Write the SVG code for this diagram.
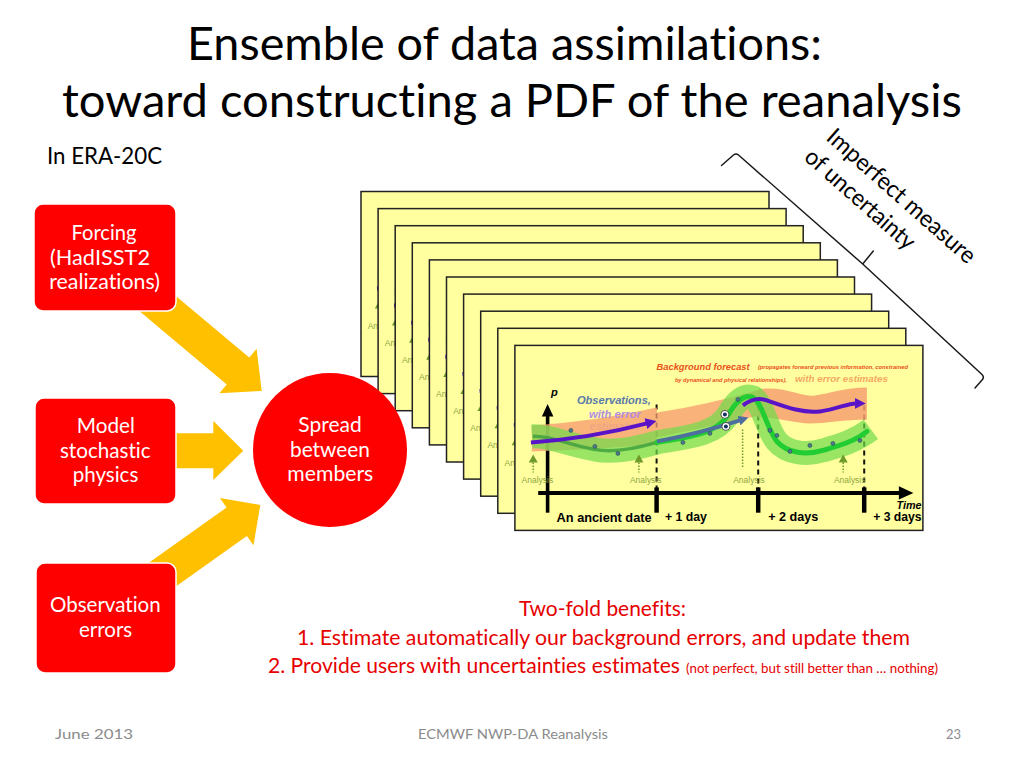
<svg xmlns="http://www.w3.org/2000/svg" xmlns:xlink="http://www.w3.org/1999/xlink" width="1024" height="768" viewBox="0 0 1024 768">
<style>
.cal{font-family:Lato,"Open Sans","Liberation Sans",sans-serif;font-variant-ligatures:none;font-feature-settings:"liga" 0,"clig" 0}
.title{font-size:46px;fill:#000;text-anchor:middle}
.box{fill:#FF0000;stroke:#fff;stroke-width:1.5}
.wt{font-size:21px;fill:#fff;text-anchor:middle}
.yarrow{fill:#FFC000}
.card{fill:#FFFFA0;stroke:#222;stroke-width:1.5}
.ar{font-family:"Liberation Sans",Arial,sans-serif}
.bi{font-weight:bold;font-style:italic}
.red{fill:#E60000}
.foot{font-size:14px;fill:#8B8B8B}
.an{font-size:8.5px;fill:#8FA640}
.garr{fill:#6E9B2A}
.gdot{stroke:#6E9B2A;stroke-width:1.5;stroke-dasharray:1.5 1.5;fill:none}
.dash{stroke:#111;stroke-width:2;stroke-dasharray:5 4;fill:none}
.obs{fill:#4C7A8C;stroke:#2A4A5A;stroke-width:0.6}
</style>
<defs>
<marker id="ahP" markerUnits="userSpaceOnUse" markerWidth="11" markerHeight="11" refX="1" refY="5" orient="auto" viewBox="0 0 10 10"><path d="M0,0 L10,5 L0,10 z" fill="#5A14C8"/></marker>
<marker id="ahS" markerUnits="userSpaceOnUse" markerWidth="10" markerHeight="10" refX="1" refY="5" orient="auto" viewBox="0 0 10 10"><path d="M0,0 L10,5 L0,10 z" fill="#4E6F9E"/></marker>
<g id="chart">
  <line x1="32.7" y1="70" x2="32.7" y2="167.3" stroke="#000" stroke-width="3.6"/>
  <polygon points="27,71 38.5,71 32.7,58.5" fill="#000"/>
  <text x="36" y="51" class="ar bi" font-size="11" fill="#000">p</text>
  <text x="100" y="85" class="ar bi" font-size="11" fill="#B48CE0" text-anchor="middle" opacity="0.6">estimates</text>
  <line x1="141.7" y1="59" x2="141.7" y2="143" class="dash"/>
  <line x1="243.3" y1="52" x2="243.3" y2="143" class="dash"/>
  <line x1="349.3" y1="60" x2="349.3" y2="143" class="dash"/>
  <path d="M17,80 Q80,76 142,62 L142,99 Q80,104 17,106 Z" fill="#F7A070" opacity="0.8"/>
  <path d="M142,67 Q190,60 245,44 L245,70 Q190,82 142,92 Z" fill="#F7A070" opacity="0.8"/>
  <path d="M243,44 C270,40 285,52 300,50 S330,42 352,42 L352,74 C330,74 310,78 295,78 S265,72 243,72 Z" fill="#F7A070" opacity="0.85"/>
  <path d="M17,91 C35,90 55,100 80,104 C100,108 125,102 142,97 C170,92 200,90 213,70 C220,58 228,48 238,52 C248,58 252,84 262,96 C272,108 292,110 308,105 C325,100 340,96 356,84" fill="none" stroke="#6FDC4A" stroke-width="24" stroke-linecap="butt" opacity="0.7"/>
  <path d="M18,91 C35,90 55,100 80,104 C100,108 125,102 142,97" fill="none" stroke="#3C9E3C" stroke-width="3.5" opacity="0.8"/>
  <path d="M142,97 C170,92 200,90 213,70 C220,58 228,48 238,52 C248,58 252,84 262,96 C272,108 292,110 308,105 C325,100 340,96 352,86" fill="none" stroke="#22CC33" stroke-width="5" stroke-linecap="round"/>
  <path d="M142,96 Q185,88 225,75" fill="none" stroke="#4E6F9E" stroke-width="4" marker-end="url(#ahS)"/>
  <path d="M16,97 Q75,93 132,78" fill="none" stroke="#5A14C8" stroke-width="4" marker-end="url(#ahP)"/>
  <path d="M228,60 C236,54 244,52 252,55 C272,62 288,68 305,66 C322,64 332,58 341,58" fill="none" stroke="#5A14C8" stroke-width="4" marker-end="url(#ahP)"/>
  <circle cx="56" cy="85" r="2" class="obs"/>
  <circle cx="80" cy="101" r="2" class="obs"/>
  <circle cx="103" cy="108" r="2" class="obs"/>
  <circle cx="168" cy="97" r="2" class="obs"/>
  <circle cx="195" cy="88" r="2" class="obs"/>
  <circle cx="223" cy="54" r="2" class="obs"/>
  <circle cx="255" cy="85" r="2" class="obs"/>
  <circle cx="262" cy="90" r="2" class="obs"/>
  <circle cx="275" cy="106" r="2" class="obs"/>
  <circle cx="295" cy="100" r="2" class="obs"/>
  <circle cx="318" cy="98" r="2" class="obs"/>
  <circle cx="345" cy="95" r="2" class="obs"/>
  <circle cx="210" cy="69" r="4" fill="#fff" stroke="#333" stroke-width="0.8"/>
  <circle cx="210" cy="69" r="2" fill="#14305E"/>
  <circle cx="211" cy="81" r="4" fill="#fff" stroke="#333" stroke-width="0.8"/>
  <circle cx="211" cy="81" r="2" fill="#14305E"/>
  <text x="141.7" y="24.5" class="ar bi" font-size="9.3" fill="#E8501A" textLength="93" lengthAdjust="spacingAndGlyphs">Background forecast</text>
  <text x="243" y="23.7" class="ar bi" font-size="5.3" fill="#E8501A" textLength="150" lengthAdjust="spacingAndGlyphs">(propagates forward previous information, constrained</text>
  <text x="160" y="36.5" class="ar bi" font-size="5.3" fill="#E8501A" textLength="112" lengthAdjust="spacingAndGlyphs">by dynamical and physical relationships),</text>
  <text x="280" y="37" class="ar bi" font-size="9" fill="#F5A862" textLength="93" lengthAdjust="spacingAndGlyphs">with error estimates</text>
  <text x="62" y="59" class="ar bi" font-size="11" fill="#5A7AAA" textLength="74" lengthAdjust="spacingAndGlyphs">Observations,</text>
  <text x="74" y="72.3" class="ar bi" font-size="11" fill="#B48CE0" textLength="52" lengthAdjust="spacingAndGlyphs">with error</text>
  <polygon points="13.8,117 22.8,117 18.3,109" class="garr"/>
  <line x1="18.3" y1="117" x2="18.3" y2="127" class="gdot"/>
  <polygon points="119.5,117 128.5,117 124,109" class="garr"/>
  <line x1="124" y1="117" x2="124" y2="127" class="gdot"/>
  <line x1="227.7" y1="84" x2="227.7" y2="122" class="gdot"/>
  <polygon points="323.8,117 332.8,117 328.3,109" class="garr"/>
  <line x1="328.3" y1="117" x2="328.3" y2="127" class="gdot"/>
  <text x="6.7" y="137.3" class="ar an" textLength="31.6" lengthAdjust="spacingAndGlyphs">Analysis</text>
  <text x="115" y="137.3" class="ar an" textLength="31.6" lengthAdjust="spacingAndGlyphs">Analysis</text>
  <text x="218.3" y="137.3" class="ar an" textLength="31.6" lengthAdjust="spacingAndGlyphs">Analysis</text>
  <text x="319" y="137.3" class="ar an" textLength="31.6" lengthAdjust="spacingAndGlyphs">Analysis</text>
  <line x1="23.3" y1="147.5" x2="386" y2="147.5" stroke="#000" stroke-width="4"/>
  <polygon points="384,140.8 384,154.2 398.5,147.5" fill="#000"/>
  <line x1="141.7" y1="142" x2="141.7" y2="167.3" stroke="#000" stroke-width="4.5"/>
  <line x1="243.3" y1="142" x2="243.3" y2="167.3" stroke="#000" stroke-width="4.5"/>
  <line x1="349.3" y1="142" x2="349.3" y2="167.3" stroke="#000" stroke-width="4.5"/>
  <text x="381.7" y="163.3" class="ar bi" font-size="10.7" fill="#000" textLength="25" lengthAdjust="spacingAndGlyphs">Time</text>
  <text x="41.7" y="176.7" class="ar" font-weight="bold" font-size="12.5" fill="#000" textLength="95" lengthAdjust="spacingAndGlyphs">An ancient date</text>
  <text x="150" y="176" class="ar" font-weight="bold" font-size="12" fill="#000" textLength="42" lengthAdjust="spacingAndGlyphs">+ 1 day</text>
  <text x="253.3" y="176" class="ar" font-weight="bold" font-size="12" fill="#000" textLength="50" lengthAdjust="spacingAndGlyphs">+ 2 days</text>
  <text x="358.3" y="176" class="ar" font-weight="bold" font-size="12" fill="#000" textLength="48.4" lengthAdjust="spacingAndGlyphs">+ 3 days</text>
</g>
</defs>

<rect x="0" y="0" width="1024" height="768" fill="#fff"/>

<g id="title">
  <text x="504.5" y="60" class="cal title" textLength="635" lengthAdjust="spacingAndGlyphs">Ensemble of data assimilations:</text>
  <text x="512" y="117" class="cal title" textLength="900" lengthAdjust="spacingAndGlyphs">toward constructing a PDF of the reanalysis</text>
</g>
<text x="47" y="164" class="cal" font-size="22.5" fill="#000" textLength="115" lengthAdjust="spacingAndGlyphs">In ERA-20C</text>

<g id="connectors">
  <polygon class="yarrow" points="157.35,280.4 249.25,357.6 256.6,348.8 261.7,390.9 219.4,393.2 226.75,384.4 134.85,307.2"/>
  <polygon class="yarrow" points="150,433.3 213.3,433.3 213.3,421 243.3,450.7 213.3,480 213.3,468.3 150,468.3"/>
  <polygon class="yarrow" points="128.85,577.1 226.55,507.5 219.9,498.1 260.3,504.9 253.5,545.3 246.85,535.9 149.15,605.5"/>
</g>

<g id="node-forcing">
  <rect x="34" y="204" width="142" height="107" rx="9" class="box"/>
  <text x="104" y="240" class="cal wt" textLength="65" lengthAdjust="spacingAndGlyphs">Forcing</text>
  <text x="100" y="264.5" class="cal wt" textLength="100" lengthAdjust="spacingAndGlyphs">(HadISST2</text>
  <text x="104.6" y="289" class="cal wt" textLength="110.7" lengthAdjust="spacingAndGlyphs">realizations)</text>
</g>
<g id="node-model">
  <rect x="35" y="398" width="141" height="106" rx="9" class="box"/>
  <text x="105.8" y="432.7" class="cal wt" textLength="58" lengthAdjust="spacingAndGlyphs">Model</text>
  <text x="105.3" y="457.7" class="cal wt" textLength="90.7" lengthAdjust="spacingAndGlyphs">stochastic</text>
  <text x="105.5" y="481.7" class="cal wt" textLength="65.6" lengthAdjust="spacingAndGlyphs">physics</text>
</g>
<g id="node-obs">
  <rect x="36" y="563" width="140" height="110" rx="9" class="box"/>
  <text x="105.3" y="611.7" class="cal wt" textLength="110.7" lengthAdjust="spacingAndGlyphs">Observation</text>
  <text x="105.6" y="636.7" class="cal wt" textLength="53.3" lengthAdjust="spacingAndGlyphs">errors</text>
</g>

<g id="ensemble-cards">
  <g id="card-1" transform="translate(361,191.5)"><rect width="408" height="185" class="card"/><use xlink:href="#chart"/></g>
  <g id="card-2" transform="translate(378.1,208.6)"><rect width="408" height="185" class="card"/><use xlink:href="#chart"/></g>
  <g id="card-3" transform="translate(395.2,225.7)"><rect width="408" height="185" class="card"/><use xlink:href="#chart"/></g>
  <g id="card-4" transform="translate(412.3,242.8)"><rect width="408" height="185" class="card"/><use xlink:href="#chart"/></g>
  <g id="card-5" transform="translate(429.4,259.9)"><rect width="408" height="185" class="card"/><use xlink:href="#chart"/></g>
  <g id="card-6" transform="translate(446.5,277)"><rect width="408" height="185" class="card"/><use xlink:href="#chart"/></g>
  <g id="card-7" transform="translate(463.6,294.1)"><rect width="408" height="185" class="card"/><use xlink:href="#chart"/></g>
  <g id="card-8" transform="translate(480.7,311.2)"><rect width="408" height="185" class="card"/><use xlink:href="#chart"/></g>
  <g id="card-9" transform="translate(497.8,328.3)"><rect width="408" height="185" class="card"/><use xlink:href="#chart"/></g>
  <g id="card-10" transform="translate(514.9,345.4)"><rect width="408" height="185" class="card" stroke-width="2"/><use xlink:href="#chart"/></g>
</g>

<g id="node-spread">
  <circle cx="330" cy="450" r="77" fill="#FF0000"/>
  <text x="330" y="431.7" class="cal wt" textLength="63.3" lengthAdjust="spacingAndGlyphs">Spread</text>
  <text x="330" y="456.7" class="cal wt" textLength="80" lengthAdjust="spacingAndGlyphs">between</text>
  <text x="330.3" y="480.7" class="cal wt" textLength="86" lengthAdjust="spacingAndGlyphs">members</text>
</g>

<g id="brace">
  <path d="M721.5,165.5 L733.5,155 Q736,153 738.5,155 L862.7,264 L873.3,251 M862.7,264 L982,374.5 Q984.5,377 982.5,379.5 L975,388" fill="none" stroke="#1a1a1a" stroke-width="1.5" stroke-linejoin="round" stroke-linecap="round"/>
  <text transform="translate(825,139) rotate(41.5)" class="cal" font-size="23.5" fill="#000" textLength="190" lengthAdjust="spacingAndGlyphs">Imperfect measure</text>
  <text transform="translate(803,159) rotate(41.5)" class="cal" font-size="23.5" fill="#000" textLength="139" lengthAdjust="spacingAndGlyphs">of uncertainty</text>
</g>

<g id="benefits">
  <text x="602.5" y="616" class="cal red" font-size="20.5" text-anchor="middle" textLength="167" lengthAdjust="spacingAndGlyphs">Two-fold benefits:</text>
  <text x="297" y="645" class="cal red" font-size="20.5" textLength="613" lengthAdjust="spacingAndGlyphs">1. Estimate automatically our background errors, and update them</text>
  <text x="268" y="672.5" class="cal red" font-size="20.5" textLength="412" lengthAdjust="spacingAndGlyphs">2. Provide users with uncertainties estimates</text>
  <text x="686" y="672.5" class="cal red" font-size="12.5" textLength="252" lengthAdjust="spacingAndGlyphs">(not perfect, but still better than … nothing)</text>
</g>

<g id="footer">
  <text x="55" y="739" class="cal foot" textLength="78" lengthAdjust="spacingAndGlyphs">June 2013</text>
  <text x="513" y="739" class="cal foot" text-anchor="middle" textLength="190" lengthAdjust="spacingAndGlyphs">ECMWF NWP-DA Reanalysis</text>
  <text x="961" y="739" class="cal foot" text-anchor="end" textLength="15" lengthAdjust="spacingAndGlyphs">23</text>
</g>
</svg>
